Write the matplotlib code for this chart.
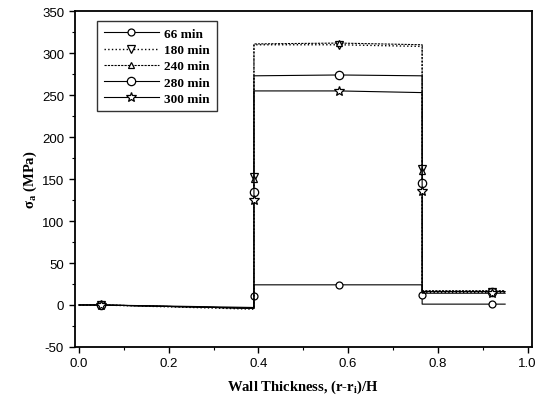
import numpy as np
import matplotlib
matplotlib.use("Agg")
import matplotlib.pyplot as plt
from matplotlib.ticker import MultipleLocator, FormatStrFormatter

# stress profile through the wall, piecewise path for each holding time
# (vertices at the layer boundaries, markers on the sampled positions)
x_path = [0.0, 0.05, 0.39, 0.39, 0.39, 0.58, 0.765, 0.765, 0.765, 0.92, 0.95]
marker_idx = [1, 3, 5, 7, 9]

s66 = [0.0, 0.0, -4.0, 11.0, 24.0, 24.0, 24.0, 12.0, 1.0, 1.0, 1.0]
s180 = [0.0, 0.0, -5.0, 152.0, 310.0, 310.0, 308.0, 162.0, 15.0, 15.0, 15.0]
s240 = [0.0, 0.0, -4.0, 150.0, 311.0, 312.0, 310.0, 160.0, 17.0, 17.0, 17.0]
s280 = [0.0, 0.0, -3.0, 135.0, 273.0, 274.0, 273.0, 145.0, 16.0, 16.0, 16.0]
s300 = [0.0, 0.0, -4.0, 125.0, 255.0, 255.0, 253.0, 136.0, 14.0, 14.0, 14.0]

labels = ['66 min', '180 min', '240 min', '280 min', '300 min']
series = [s66, s180, s240, s280, s300]
markers = ['o', 'v', '^', 'o', '*']
styles = ['-', ':', (0, (2, 1)), '-', '-']
msizes = [5, 6, 5, 6, 7]
lwidths = [0.8, 1.0, 0.8, 0.8, 0.8]

plt.rcParams['font.family'] = ['Liberation Sans', 'DejaVu Sans']
plt.rcParams['axes.unicode_minus'] = False

fig = plt.figure(figsize=(5.44, 4.06), dpi=100)
ax = fig.add_axes([0.137, 0.143, 0.841, 0.827])

for s, lab, m, ls, ms, lw in zip(series, labels, markers, styles, msizes, lwidths):
    ax.plot(x_path, s, linestyle=ls, color='black', linewidth=lw,
            marker=m, markevery=marker_idx, markersize=ms,
            markerfacecolor='white', markeredgecolor='black',
            markeredgewidth=0.9, label=lab)

ax.set_xlim(-0.01, 1.01)
ax.set_ylim(-50, 350)
ax.xaxis.set_major_locator(MultipleLocator(0.2))
ax.xaxis.set_minor_locator(MultipleLocator(0.1))
ax.yaxis.set_major_locator(MultipleLocator(50))
ax.yaxis.set_minor_locator(MultipleLocator(25))
ax.xaxis.set_major_formatter(FormatStrFormatter('%.1f'))
ax.tick_params(which='major', direction='out', length=4, width=1.0, labelsize=9.5)
ax.tick_params(which='minor', direction='out', length=2, width=0.8)
for sp in ax.spines.values():
    sp.set_linewidth(1.3)

ax.set_xlabel('Wall Thickness, (r-r$_\\mathregular{i}$)/H', fontfamily='Liberation Serif',
              fontweight='bold', fontsize=10.5, labelpad=6)
ax.set_ylabel('σ$_\\mathregular{a}$ (MPa)', fontfamily='Liberation Serif',
              fontweight='bold', fontsize=10.5, labelpad=2)

leg = ax.legend(loc='upper left', bbox_to_anchor=(0.035, 0.99), frameon=True,
                fancybox=False, edgecolor='black', handlelength=4.2,
                labelspacing=0.3, borderpad=0.5, handletextpad=0.4,
                prop={'family': 'Liberation Serif', 'weight': 'bold', 'size': 9.5})
leg.get_frame().set_linewidth(1.0)

fig.savefig('out.png', dpi=100)
